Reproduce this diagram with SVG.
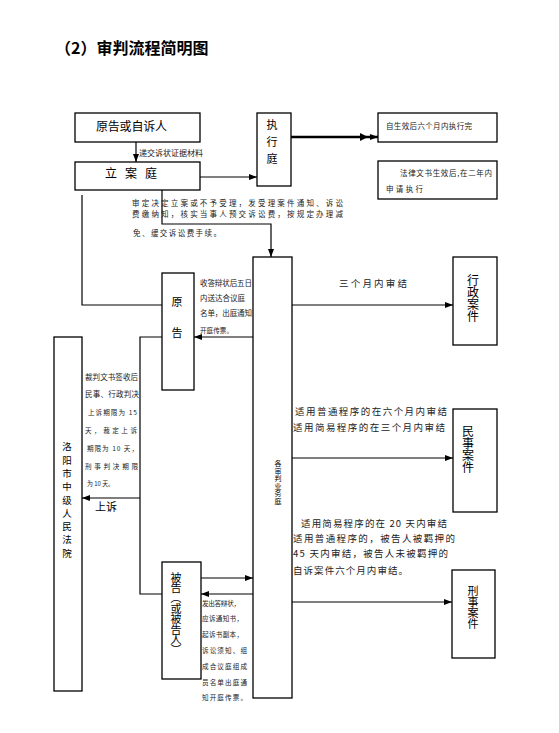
<svg xmlns="http://www.w3.org/2000/svg" width="559" height="733" viewBox="0 0 559 733">
<style>
.box{fill:#fff;stroke:#000;stroke-width:1.3}
.ln{fill:none;stroke:#000;stroke-width:1.2}
text{font-family:"Noto Sans CJK SC","Noto Sans",sans-serif;fill:#000}
.s{fill:#222;font-size:7.5px}
.t{fill:#222;font-size:6.6px}
.m{fill:#222;font-size:9.5px}
.v{writing-mode:vertical-rl}
</style>
<defs>
<marker id="ar" viewBox="0 0 8 6" refX="8" refY="3" markerWidth="8" markerHeight="6" markerUnits="userSpaceOnUse" orient="auto">
<path d="M0,0L8,3L0,6z" fill="#000"/>
</marker>
</defs>
<rect width="559" height="733" fill="#fff"/>
<text x="55" y="54" font-size="16" font-weight="bold">（2）审判流程简明图</text>

<g id="connectors">
<line class="ln" x1="136" y1="142" x2="136" y2="162" marker-end="url(#ar)"/>
<text class="s" x="139" y="156" font-size="7" textLength="64" lengthAdjust="spacingAndGlyphs">递交诉状证据材料</text>
<line class="ln" x1="200" y1="177" x2="257" y2="177" marker-end="url(#ar)"/>
<line x1="285" y1="137" x2="378" y2="137" stroke="#000" stroke-width="2.5" marker-end="url(#ar)"/>
<path d="M360,133L368,137L360,141z" fill="#000"/>
<polyline class="ln" points="162,190 162,224 271,224 271,257" marker-end="url(#ar)"/>
<polyline class="ln" points="82,195 82,305 162,305"/>
<line class="ln" x1="253" y1="337" x2="194" y2="337" marker-end="url(#ar)"/>
<polyline class="ln" points="162,337 140,337 140,594 162,594"/>
<line class="ln" x1="140" y1="498" x2="82" y2="498" marker-end="url(#ar)"/>
<line class="ln" x1="201" y1="578" x2="253" y2="578" marker-end="url(#ar)"/>
<line class="ln" x1="253" y1="594" x2="201" y2="594" marker-end="url(#ar)"/>
<line class="ln" x1="292" y1="305" x2="453" y2="305" marker-end="url(#ar)"/>
<line class="ln" x1="285" y1="458" x2="453" y2="458" marker-end="url(#ar)"/>
<line class="ln" x1="285" y1="602" x2="452" y2="602" marker-end="url(#ar)"/>
</g>

<g id="n-yuangao-zisu">
<rect class="box" x="75" y="113" width="125" height="29"/>
<text x="96" y="131" font-size="12" textLength="71" lengthAdjust="spacing">原告或自诉人</text>
</g>
<g id="n-lian">
<rect class="box" x="75" y="162" width="125" height="28"/>
<text x="105" y="178" font-size="12" letter-spacing="8">立案庭</text>
</g>
<g id="n-zhixing">
<rect class="box" x="257" y="113" width="34" height="73"/>
<text class="v" x="272" y="119" font-size="11" letter-spacing="6">执行庭</text>
</g>
<g id="n-zhixing1">
<rect class="box" x="378" y="113" width="119" height="29"/>
<text class="s" x="386" y="129" textLength="86" lengthAdjust="spacing">自生效后六个月内执行完</text>
</g>
<g id="n-zhixing2">
<rect class="box" x="378" y="161" width="119" height="38"/>
<text class="s" x="400" y="176" textLength="92" lengthAdjust="spacing">法律文书生效后,在二年内</text>
<text class="s" x="386" y="192" textLength="37" lengthAdjust="spacing">申请执行</text>
</g>
<g id="t-lian-note">
<text class="s" x="132" y="206" font-size="8" textLength="211" lengthAdjust="spacing">审定决定立案或不予受理，发受理案件通知、诉讼</text>
<text class="s" x="132" y="217" font-size="8" textLength="211" lengthAdjust="spacing">费缴纳知，核实当事人预交诉讼费，按规定办理减</text>
<text class="s" x="133" y="236" font-size="8" textLength="88" lengthAdjust="spacing">免、缓交诉讼费手续。</text>
</g>
<g id="n-yuangao">
<rect class="box" x="162" y="273" width="32" height="117"/>
<text class="v" x="177" y="296" font-size="11" letter-spacing="20">原告</text>
</g>
<g id="t-yuangao-note">
<text class="s" x="200" y="286" textLength="52" lengthAdjust="spacing">收答辩状后五日</text>
<text class="s" x="200" y="301" textLength="45" lengthAdjust="spacing">内送达合议庭</text>
<text class="s" x="200" y="316" textLength="52" lengthAdjust="spacing">名单，出庭通知</text>
<text class="t" x="200" y="333" textLength="33" lengthAdjust="spacing">开庭传票。</text>
</g>
<g id="n-court">
<rect class="box" x="54" y="337" width="28" height="354"/>
<text class="v" x="67" y="442" font-size="9.5" letter-spacing="3.8" fill="#333">洛阳市中级人民法院</text>
</g>
<g id="t-appeal-note">
<text class="s" x="85" y="380" font-size="7.2" textLength="53" lengthAdjust="spacing">裁判文书签收后</text>
<text class="s" x="85" y="397" font-size="7.2" textLength="54" lengthAdjust="spacing">民事、行政判决</text>
<text class="t" x="88" y="415" textLength="49" lengthAdjust="spacing">上诉期限为 15</text>
<text class="t" x="85" y="433" textLength="52" lengthAdjust="spacing">天，裁定上诉</text>
<text class="t" x="87" y="451" textLength="51" lengthAdjust="spacing">期限为 10 天，</text>
<text class="t" x="85" y="469" textLength="53" lengthAdjust="spacing">刑事判决期限</text>
<text class="t" x="87" y="486" textLength="27" lengthAdjust="spacingAndGlyphs">为 10 天。</text>
</g>
<text x="95" y="511" font-size="11">上诉</text>
<g id="n-trial">
<rect class="box" x="253" y="257" width="39" height="441"/>
<text class="v" x="278" y="460" font-size="7" letter-spacing="0.5" fill="#222">各审判业务庭</text>
</g>
<g id="n-xingzheng">
<rect class="box" x="453" y="257" width="44" height="88"/>
<text class="v" x="473" y="274" font-size="12">行政案件</text>
</g>
<text class="m" x="339" y="287" textLength="68" lengthAdjust="spacing">三个月内审结</text>
<g id="n-minshi">
<rect class="box" x="453" y="409" width="44" height="103"/>
<text class="v" x="468" y="425" font-size="12">民事案件</text>
</g>
<text class="m" x="295" y="415" font-size="10" textLength="152" lengthAdjust="spacing">适用普通程序的在六个月内审结</text>
<text class="m" x="293" y="431" font-size="10" textLength="152" lengthAdjust="spacing">适用简易程序的在三个月内审结</text>
<g id="n-xingshi">
<rect class="box" x="452" y="570" width="43" height="88"/>
<text class="v" x="473" y="585" font-size="11">刑事案件</text>
</g>
<g id="t-xingshi-note">
<text class="m" x="301" y="527" textLength="146" lengthAdjust="spacing">适用简易程序的在 20 天内审结</text>
<text class="m" x="293" y="542" textLength="162" lengthAdjust="spacing">适用普通程序的，被告人被羁押的</text>
<text class="m" x="293" y="557" textLength="155" lengthAdjust="spacing">45 天内审结，被告人未被羁押的</text>
<text class="m" x="293" y="574" textLength="115" lengthAdjust="spacing">自诉案件六个月内审结。</text>
</g>
<g id="n-beigao">
<rect class="box" x="162" y="562" width="39" height="117"/>
<text class="v" x="176" y="572" font-size="11" letter-spacing="-0.6">被告（或被告人）</text>
</g>
<g id="t-beigao-note">
<text class="t" x="202" y="606" textLength="38" lengthAdjust="spacing">发出答辩状，</text>
<text class="t" x="202" y="621" textLength="41" lengthAdjust="spacing">应诉通知书，</text>
<text class="t" x="202" y="637" textLength="41" lengthAdjust="spacing">起诉书副本，</text>
<text class="t" x="202" y="653" textLength="45" lengthAdjust="spacing">诉讼须知、组</text>
<text class="t" x="202" y="669" textLength="45" lengthAdjust="spacing">成合议庭组成</text>
<text class="t" x="202" y="685" textLength="45" lengthAdjust="spacing">员名单出庭通</text>
<text class="t" x="202" y="700" textLength="45" lengthAdjust="spacing">知开庭传票。</text>
</g>
</svg>
